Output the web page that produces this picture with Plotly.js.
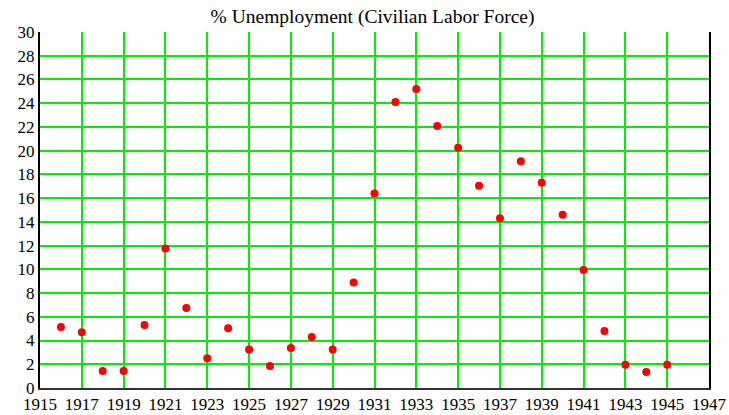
<!DOCTYPE html>
<html>
<head>
<meta charset="utf-8">
<script src="https://cdn.plot.ly/plotly-3.0.1.min.js"></script>
<style>html,body{margin:0;padding:0;background:#fff;}#chart{width:729px;height:415px;}</style>
</head>
<body>
<div id="chart"></div>
<script>
const years = [1916,1917,1918,1919,1920,1921,1922,1923,1924,1925,1926,1927,1928,1929,1930,1931,1932,1933,1934,1935,1936,1937,1938,1939,1940,1941,1942,1943,1944,1945];
const unemployment = [5.15,4.7,1.43,1.43,5.3,11.75,6.74,2.5,5.04,3.25,1.85,3.38,4.3,3.25,8.9,16.4,24.1,25.2,22.07,20.24,17.04,14.3,19.1,17.3,14.6,9.95,4.8,1.96,1.35,1.96];
const chartTitle = "% Unemployment (Civilian Labor Force)";

const serif = 'Liberation Serif, Times New Roman, serif';

const trace = {
  x: years,
  y: unemployment,
  type: 'scatter',
  mode: 'markers',
  marker: {color: '#ff0000', size: 8},
  hoverinfo: 'x+y'
};

const layout = {
  width: 729,
  height: 415,
  margin: {l: 40, r: 20, t: 32, b: 27},
  paper_bgcolor: '#ffffff',
  plot_bgcolor: '#ffffff',
  font: {family: serif, size: 17, color: '#000'},
  title: {text: chartTitle, x: 0.511, xanchor: 'center', y: 0.962, yanchor: 'middle', font: {size: 19.5, color: '#000', family: serif}},
  showlegend: false,
  xaxis: {
    range: [1915, 1947],
    tick0: 1915,
    dtick: 2,
    showgrid: true,
    gridcolor: '#00f000',
    gridwidth: 2,
    zeroline: false,
    showline: true,
    linecolor: '#333333',
    linewidth: 2,
    mirror: false,
    ticks: '',
    ticklen: 0,
    tickfont: {size: 17, family: serif},
    fixedrange: true
  },
  yaxis: {
    range: [0, 30],
    tick0: 0,
    dtick: 2,
    showgrid: true,
    gridcolor: '#00f000',
    gridwidth: 2,
    zeroline: false,
    showline: true,
    linecolor: '#000000',
    linewidth: 2,
    mirror: true,
    ticks: '',
    ticklen: 0,
    tickfont: {size: 17, family: serif},
    fixedrange: true
  }
};

Plotly.newPlot('chart', [trace], layout, {displayModeBar: false, staticPlot: true});
</script>
</body>
</html>
